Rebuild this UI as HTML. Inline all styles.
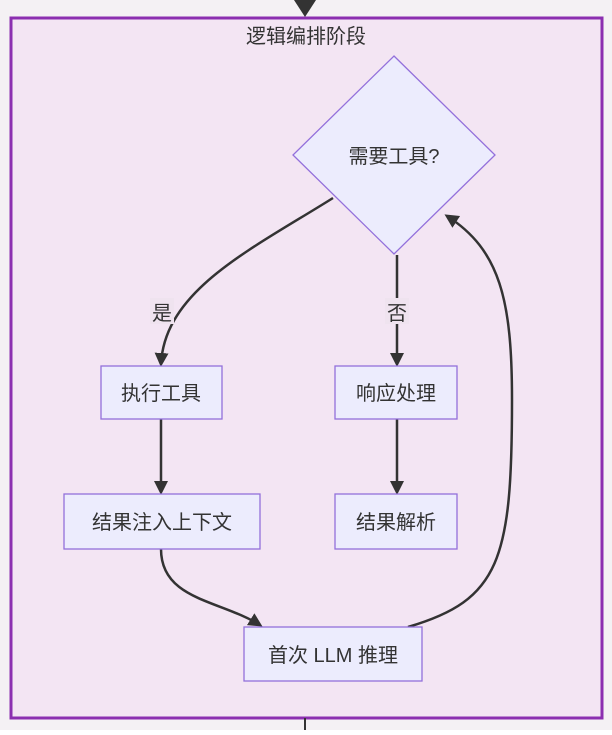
<!DOCTYPE html>
<html><head><meta charset="utf-8"><style>
body{margin:0;width:612px;height:730px;background:#fff;overflow:hidden}
svg text{font-family:"Liberation Sans","Noto Sans CJK SC",sans-serif;fill:#333}
</style></head><body>
<svg width="612" height="730" viewBox="0 0 612 730" xmlns="http://www.w3.org/2000/svg">
<defs><marker id="a" markerWidth="14" markerHeight="14" refX="11" refY="7" orient="auto" markerUnits="userSpaceOnUse"><path d="M0,0L14,7L0,14z" fill="#333"/></marker></defs>
<rect x="0" y="0" width="612" height="730" fill="#f4f1f4"/>
<rect x="11" y="18" width="591" height="700" fill="#f3e5f3" stroke="#8b2fb0" stroke-width="3"/>
<path d="M294,0L316,0L305,17z" fill="#333"/>
<line x1="305" y1="718" x2="305" y2="730" stroke="#333" stroke-width="2"/>
<text x="306" y="43" font-size="20" text-anchor="middle">逻辑编排阶段</text>
<g stroke="#333" stroke-width="2.5" fill="none">
<path d="M333,198 C250,250 165,290 161,364" marker-end="url(#a)"/>
<path d="M397,255 L397,364" marker-end="url(#a)"/>
<path d="M161,419 L161,492" marker-end="url(#a)"/>
<path d="M397,419 L397,492" marker-end="url(#a)"/>
<path d="M161,549 C161,600 220,600 260,625" marker-end="url(#a)"/>
<path d="M408,627 C500,600 512,560 512,400 C512,300 500,250 447,216" marker-end="url(#a)"/>
</g>
<rect x="150" y="298" width="24" height="26" fill="#efe3ef"/>
<text x="162" y="320" font-size="20" text-anchor="middle">是</text>
<rect x="385" y="298" width="24" height="26" fill="#efe3ef"/>
<text x="397" y="320" font-size="20" text-anchor="middle">否</text>
<g fill="#ececfd" stroke="#9370db" stroke-width="1.3">
<path d="M394,56 L495,155 L394,254 L293,155z"/>
<rect x="101" y="366" width="121" height="53"/>
<rect x="335" y="366" width="122" height="53"/>
<rect x="64" y="494" width="196" height="55"/>
<rect x="335" y="494" width="122" height="55"/>
<rect x="244" y="627" width="178" height="54"/>
</g>
<g font-size="20" text-anchor="middle">
<text x="394" y="163">需要工具?</text>
<text x="161" y="400">执行工具</text>
<text x="396" y="400">响应处理</text>
<text x="162" y="529">结果注入上下文</text>
<text x="396" y="529">结果解析</text>
<text x="333" y="662">首次 LLM 推理</text>
</g>
</svg>
</body></html>
